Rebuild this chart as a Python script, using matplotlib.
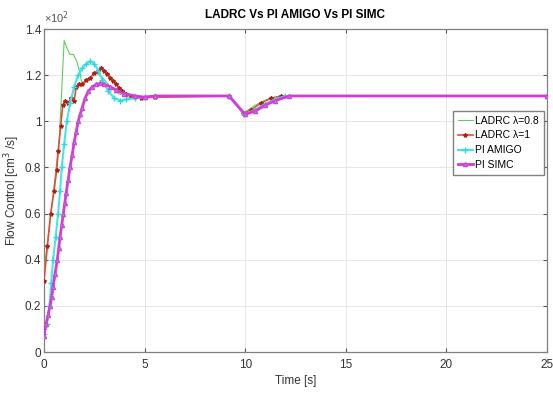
import matplotlib
matplotlib.use("Agg")
from matplotlib import pyplot as plt

plt.rcParams['font.family'] = ['Liberation Sans', 'DejaVu Sans']

# LADRC lambda=0.8 (green)
t_l08 = [0, 0.2, 0.4, 0.6, 0.76, 0.9, 1.0, 1.13, 1.29, 1.46, 1.63, 1.79, 1.87,
         2.0, 2.3, 2.6, 2.9, 3.3, 3.7, 4.2, 5.0, 9.2, 9.9, 10.5, 11.2, 11.8, 25]
v_l08 = [0.35, 0.5, 0.64, 0.8, 0.93, 1.17, 1.35, 1.32, 1.29, 1.29, 1.26, 1.21, 1.17,
         1.17, 1.19, 1.21, 1.19, 1.15, 1.12, 1.105, 1.105, 1.11, 1.035, 1.07, 1.10, 1.11, 1.11]

# LADRC lambda=1 (red)
t_l1 = [0, 0.17, 0.33, 0.5, 0.63, 0.71, 0.83, 0.93, 1.05, 1.2, 1.35, 1.5, 1.6, 1.75,
        1.9, 2.1, 2.3, 2.5, 2.7, 2.85, 3.0, 3.15, 3.3, 3.45, 3.6, 3.75, 3.9, 4.1, 4.3,
        4.8, 5.5, 9.2, 9.9, 10.3, 10.8, 11.3, 11.8, 25]
v_l1 = [0.31, 0.46, 0.60, 0.70, 0.79, 0.87, 0.98, 1.07, 1.09, 1.08, 1.10, 1.09, 1.15, 1.16,
        1.16, 1.18, 1.19, 1.21, 1.22, 1.23, 1.22, 1.205, 1.19, 1.175, 1.16, 1.145, 1.13, 1.12, 1.11,
        1.10, 1.105, 1.11, 1.035, 1.05, 1.08, 1.10, 1.11, 1.11]

# PI AMIGO (cyan)
t_amigo = [0, 0.13, 0.27, 0.36, 0.45, 0.58, 0.7, 0.8, 0.88, 1.0, 1.13, 1.3, 1.5, 1.7, 1.9,
           2.1, 2.3, 2.5, 2.7, 2.9, 3.2, 3.5, 3.8, 4.1, 4.5, 5.0, 5.5, 9.2, 9.95, 10.5,
           11.0, 11.5, 12.0, 25]
v_amigo = [0.08, 0.12, 0.2, 0.3, 0.4, 0.5, 0.6, 0.7, 0.8, 0.9, 1.0, 1.08, 1.15, 1.2, 1.23,
           1.25, 1.26, 1.25, 1.22, 1.18, 1.13, 1.10, 1.09, 1.095, 1.10, 1.105, 1.11, 1.11, 1.03, 1.05,
           1.075, 1.095, 1.11, 1.11]

# PI SIMC (magenta)
t_simc = [0, 0.1, 0.2, 0.3, 0.38, 0.45, 0.55, 0.66, 0.73, 0.8, 0.88, 0.96, 1.03, 1.1, 1.2,
          1.29, 1.4, 1.5, 1.6, 1.7, 1.8, 1.9, 2.04, 2.2, 2.4, 2.6, 2.8, 3.0, 3.3, 3.6, 4.0,
          4.5, 5.0, 5.5, 9.2, 10.0, 10.5, 11.0, 11.5, 12.2, 25]
v_simc = [0.07, 0.12, 0.16, 0.2, 0.24, 0.28, 0.34, 0.4, 0.45, 0.5, 0.55, 0.6, 0.645, 0.69, 0.745,
          0.8, 0.855, 0.91, 0.955, 1.0, 1.03, 1.06, 1.1, 1.13, 1.15, 1.16, 1.165, 1.16, 1.15, 1.135, 1.12,
          1.11, 1.105, 1.11, 1.11, 1.03, 1.045, 1.07, 1.09, 1.11, 1.11]

x_ticks = [0, 5, 10, 15, 20, 25]
y_ticks = [0, 0.2, 0.4, 0.6, 0.8, 1.0, 1.2, 1.4]
y_tick_labels = ['0', '0.2', '0.4', '0.6', '0.8', '1', '1.2', '1.4']

fig = plt.figure(figsize=(5.53, 3.93), dpi=100)
ax = fig.add_axes([0.0796, 0.1043, 0.9094, 0.8217])

ax.plot(t_l08, v_l08, color='#5ccf5c', lw=0.8, label='LADRC λ=0.8', zorder=3)
ax.plot(t_l1, v_l1, color='#e84a3a', lw=1.2, marker='*', ms=3, mfc='#b02018',
        mec='#b02018', label='LADRC λ=1', zorder=4)
ax.plot(t_amigo, v_amigo, color='#40e8e8', lw=1.5, marker='+', ms=4, mec='#30d8e0',
        label='PI AMIGO', zorder=5)
ax.plot(t_simc, v_simc, color='#d838d8', lw=2.0, marker='^', ms=3, mfc='#e070e8',
        mec='#c050d0', label='PI SIMC', zorder=6)

ax.set_xlim(0, 25)
ax.set_ylim(0, 1.4)
ax.set_xticks(x_ticks)
ax.set_yticks(y_ticks)
ax.set_yticklabels(y_tick_labels)
ax.grid(True, color='#e6e6e6', lw=0.7)
ax.set_axisbelow(True)
ax.tick_params(direction='in', length=3, colors='#555555', labelcolor='#333333',
               labelsize=8.5, top=True, right=True, pad=2)
ax.tick_params(axis='x', pad=5)
for s in ax.spines.values():
    s.set_color('#808080')
    s.set_linewidth(0.9)

ax.text(0.0, 1.01, '×10$^2$', transform=ax.transAxes, fontsize=8, color='#555555',
        ha='left', va='bottom')
ax.set_title('LADRC Vs PI AMIGO Vs PI SIMC', fontsize=8.5, fontweight='bold', pad=8)
ax.set_xlabel('Time [s]', fontsize=8.5, color='#333333', labelpad=3)
ax.set_ylabel('Flow Control [cm$^3$ /s]', fontsize=8.5, color='#333333', labelpad=2)

ax.legend(loc='upper left', bbox_to_anchor=(0.813, 0.746), borderaxespad=0,
          fontsize=7.5, handlelength=1.5, handletextpad=0.2, labelspacing=0.45,
          fancybox=False, edgecolor='#808080', framealpha=1, borderpad=0.45)

fig.savefig('out.png', dpi=100)
